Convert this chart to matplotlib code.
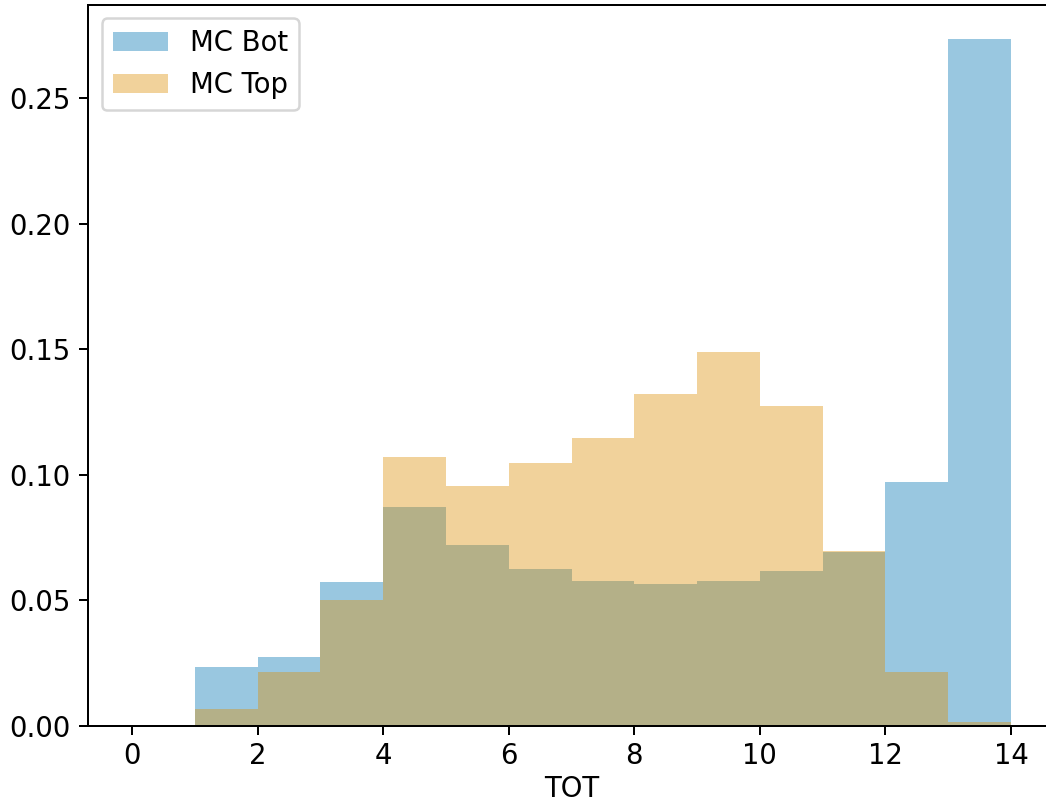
import matplotlib
matplotlib.use("Agg")
import matplotlib.pyplot as plt
import numpy as np

plt.rcParams["font.size"] = 11

# TOT bins 0..14, normalised counts per bin
tot_bins = np.arange(0, 15)
bin_centers = tot_bins[:-1] + 0.5
mc_bot = [0.0, 0.0235, 0.0275, 0.0573, 0.0872, 0.0720, 0.0625, 0.0577,
          0.0565, 0.0577, 0.0617, 0.0693, 0.0971, 0.2735]
mc_top = [0.0, 0.0068, 0.0215, 0.0500, 0.1070, 0.0955, 0.1047, 0.1146,
          0.1320, 0.1490, 0.1274, 0.0697, 0.0215, 0.0016]

blue = "#0173B2"
orange = "#DE8F05"

fig = plt.figure(figsize=(1046 / 180, 806 / 180), dpi=180)
ax = fig.add_axes([88 / 1046, 80 / 806, (1055 - 88) / 1046, (726 - 4.5) / 806])

ax.hist(bin_centers, bins=tot_bins, weights=mc_bot, color=blue, alpha=0.4, label="MC Bot")
ax.hist(bin_centers, bins=tot_bins, weights=mc_top, color=orange, alpha=0.4, label="MC Top")

ax.set_xlim(-0.7, 14.7)
ax.set_ylim(0, max(mc_bot) * 1.05)
ax.set_xticks([0, 2, 4, 6, 8, 10, 12, 14])
ax.tick_params(axis="x", pad=3)
ax.set_xlabel("TOT", labelpad=2)
ax.legend(loc="upper left")

fig.savefig("out.png", dpi=180)
